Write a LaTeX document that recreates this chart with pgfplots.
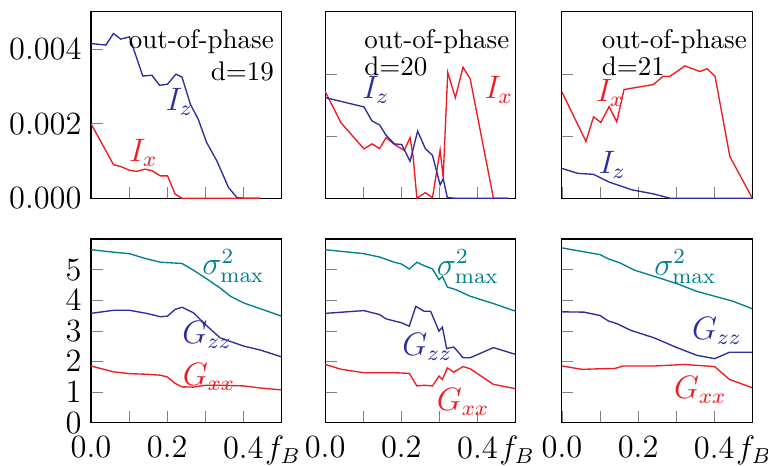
\documentclass[border=0pt]{standalone}
\usepackage{pgfplots}
\pgfplotsset{compat=1.18}
\definecolor{cblue}{RGB}{45,45,155}
\definecolor{cred}{RGB}{237,28,36}
\definecolor{cteal}{RGB}{0,128,140}
\tikzset{lbl/.style={font=\fontsize{11.5}{13}\selectfont},
  ttl/.style={inner sep=0pt}}
\pgfplotsset{
  panel/.style={
    scale only axis, width=70.5pt,
    xmin=0, xmax=0.5,
    xtick={0,0.1,0.2,0.3,0.4,0.5},
    tick pos=left, tick align=inside,
    tick label style={font=\fontsize{12}{14}\selectfont},
    xticklabel style={yshift=-1.5pt},
    every axis plot/.append style={line width=0.5pt, mark=none},
  },
  toprow/.style={panel, height=69pt, ymin=0, xticklabels={},
    ytick={0,0.002,0.004}, scaled y ticks=false,
    yticklabel style={/pgf/number format/.cd, fixed, fixed zerofill, precision=3}},
  botrow/.style={panel, height=68pt, ymin=0, ymax=6, ytick={0,1,2,3,4,5},
    xticklabels={0.0,,0.2,,{0.4\rlap{\kern0.6pt$f_B$}},}},
}
\begin{document}
\begin{tikzpicture}
\path[use as bounding box] (-33.7pt,4.4pt) rectangle (250.7pt,-167.8pt);

% ---- top row ----
\begin{axis}[toprow, at={(0pt,0pt)}, anchor=north west, ymax=0.005]
\addplot[cblue] coordinates {(0,0.00415) (0.039,0.00411) (0.059,0.00442) (0.078,0.00427) (0.101,0.00433) (0.136,0.00328) (0.160,0.00330) (0.180,0.00303) (0.201,0.00306) (0.223,0.00333) (0.239,0.00325) (0.261,0.00252) (0.282,0.00211) (0.303,0.00151) (0.331,0.00099) (0.361,0.00029) (0.383,0.00002) (0.401,0) (0.445,0)};
\addplot[cred] coordinates {(0,0.0020) (0.059,0.0009) (0.078,0.00085) (0.101,0.00075) (0.120,0.00072) (0.142,0.00078) (0.160,0.00074) (0.182,0.0006) (0.201,0.0006) (0.221,0.00011) (0.239,0) (0.445,0)};
\node[cblue, lbl] at (axis cs:0.232,0.00258) {$I_z$};
\node[cred, lbl] at (axis cs:0.137,0.00121) {$I_x$};
\node[ttl, anchor=north east, align=right] at (axis description cs:0.963,0.91) {out-of-phase\\d=19};
\end{axis}

\begin{axis}[toprow, at={(86.7pt,0pt)}, anchor=north west, ymax=0.006, yticklabels={}]
\addplot[cred] coordinates {(0,0.00344) (0.0416,0.00243) (0.102,0.00159) (0.123,0.00175) (0.143,0.0016) (0.160,0.00195) (0.182,0.00173) (0.208,0.00154) (0.223,0.00195) (0.231,0.00135) (0.241,0) (0.263,0.00018) (0.282,0.00002) (0.302,0.00155) (0.310,0.00067) (0.322,0.00405) (0.342,0.00324) (0.362,0.00422) (0.381,0.00384) (0.442,0) (0.481,0)};
\addplot[cblue] coordinates {(0,0.00324) (0.102,0.00294) (0.123,0.00249) (0.143,0.00236) (0.160,0.00203) (0.182,0.00175) (0.201,0.00173) (0.223,0.00119) (0.243,0.00216) (0.263,0.0016) (0.282,0.00138) (0.302,0.00043) (0.310,0.00063) (0.321,0.00002) (0.342,0) (0.481,0)};
\node[cblue, lbl] at (axis cs:0.133,0.00348) {$I_z$};
\node[cred, lbl] at (axis cs:0.456,0.00348) {$I_x$};
\node[ttl, anchor=north west, align=left] at (axis description cs:0.203,0.91) {out-of-phase\\[-2pt]d=20};
\end{axis}

\begin{axis}[toprow, at={(174.4pt,0pt)}, anchor=north west, ymax=0.006, yticklabels={}]
\addplot[cred] coordinates {(0,0.00342) (0.063,0.00183) (0.083,0.00262) (0.102,0.00244) (0.124,0.00295) (0.144,0.00246) (0.163,0.0035) (0.240,0.00366) (0.266,0.00393) (0.284,0.00393) (0.323,0.00426) (0.362,0.00408) (0.381,0.00417) (0.402,0.00393) (0.441,0.00134) (0.5,0)};
\addplot[cblue] coordinates {(0,0.00096) (0.0415,0.0008) (0.083,0.00077) (0.124,0.00052) (0.184,0.00027) (0.240,0.00014) (0.284,0) (0.5,0)};
\node[cred, lbl] at (axis cs:0.127,0.00339) {$I_x$};
\node[cblue, lbl] at (axis cs:0.132,0.00106) {$I_z$};
\node[ttl, anchor=north west, align=left] at (axis description cs:0.207,0.91) {out-of-phase\\[-2pt]d=21};
\end{axis}

% ---- bottom row ----
\begin{axis}[botrow, at={(0pt,-84.1pt)}, anchor=north west]
\addplot[cteal] coordinates {(0,5.65) (0.059,5.57) (0.101,5.52) (0.138,5.38) (0.182,5.24) (0.212,5.22) (0.239,5.20) (0.269,4.98) (0.3,4.73) (0.339,4.40) (0.366,4.13) (0.401,3.91) (0.445,3.72) (0.5,3.48)};
\addplot[cblue] coordinates {(0,3.57) (0.059,3.67) (0.101,3.67) (0.146,3.57) (0.182,3.46) (0.201,3.48) (0.221,3.70) (0.239,3.77) (0.269,3.59) (0.3,3.21) (0.339,2.77) (0.401,2.5) (0.445,2.37) (0.5,2.15)};
\addplot[cred] coordinates {(0,1.85) (0.059,1.66) (0.101,1.60) (0.146,1.58) (0.182,1.55) (0.201,1.49) (0.221,1.28) (0.239,1.17) (0.269,1.16) (0.3,1.22) (0.339,1.22) (0.401,1.20) (0.445,1.13) (0.5,1.07)};
\node[cteal, lbl] at (axis cs:0.374,5.12) {$\sigma^2_{\mathrm{max}}$};
\node[cblue, lbl] at (axis cs:0.305,2.87) {$G_{zz}$};
\node[cred, lbl] at (axis cs:0.31,1.5) {$G_{xx}$};
\end{axis}

\begin{axis}[botrow, at={(86.7pt,-84.1pt)}, anchor=north west, yticklabels={}]
\addplot[cteal] coordinates {(0,5.65) (0.102,5.52) (0.143,5.41) (0.182,5.24) (0.201,5.18) (0.221,5.02) (0.241,5.24) (0.260,5.13) (0.282,5.02) (0.299,4.67) (0.308,4.78) (0.321,4.43) (0.342,4.35) (0.381,4.13) (0.442,3.89) (0.5,3.64)};
\addplot[cblue] coordinates {(0,3.57) (0.102,3.66) (0.143,3.53) (0.160,3.39) (0.201,3.26) (0.221,3.15) (0.238,3.80) (0.260,3.64) (0.277,3.64) (0.299,2.99) (0.308,3.12) (0.319,2.42) (0.338,2.47) (0.362,2.12) (0.381,2.12) (0.442,2.45) (0.5,2.23)};
\addplot[cred] coordinates {(0,1.90) (0.043,1.74) (0.102,1.63) (0.143,1.63) (0.182,1.63) (0.221,1.61) (0.241,1.20) (0.260,1.22) (0.282,1.20) (0.299,1.52) (0.308,1.41) (0.321,1.79) (0.338,1.65) (0.362,1.83) (0.381,1.76) (0.442,1.25) (0.5,1.11)};
\node[cteal, lbl] at (axis cs:0.375,5.09) {$\sigma^2_{\mathrm{max}}$};
\node[cblue, lbl] at (axis cs:0.268,2.48) {$G_{zz}$};
\node[cred, lbl] at (axis cs:0.362,0.68) {$G_{xx}$};
\end{axis}

\begin{axis}[botrow, at={(174.4pt,-84.1pt)}, anchor=north west, yticklabels={}]
\addplot[cteal] coordinates {(0,5.71) (0.049,5.60) (0.1,5.49) (0.122,5.35) (0.152,5.22) (0.191,4.98) (0.242,4.78) (0.302,4.54) (0.354,4.29) (0.401,4.13) (0.448,3.97) (0.5,3.72)};
\addplot[cblue] coordinates {(0,3.62) (0.058,3.61) (0.1,3.50) (0.122,3.32) (0.143,3.24) (0.182,3.01) (0.242,2.77) (0.302,2.45) (0.354,2.20) (0.401,2.09) (0.44,2.30) (0.5,2.30)};
\addplot[cred] coordinates {(0,1.85) (0.053,1.74) (0.1,1.76) (0.139,1.77) (0.161,1.85) (0.242,1.85) (0.32,1.90) (0.38,1.85) (0.401,1.83) (0.44,1.41) (0.5,1.14)};
\node[cteal, lbl] at (axis cs:0.324,5.09) {$\sigma^2_{\mathrm{max}}$};
\node[cblue, lbl] at (axis cs:0.407,3.0) {$G_{zz}$};
\node[cred, lbl] at (axis cs:0.363,1.08) {$G_{xx}$};
\end{axis}
\end{tikzpicture}
\end{document}
